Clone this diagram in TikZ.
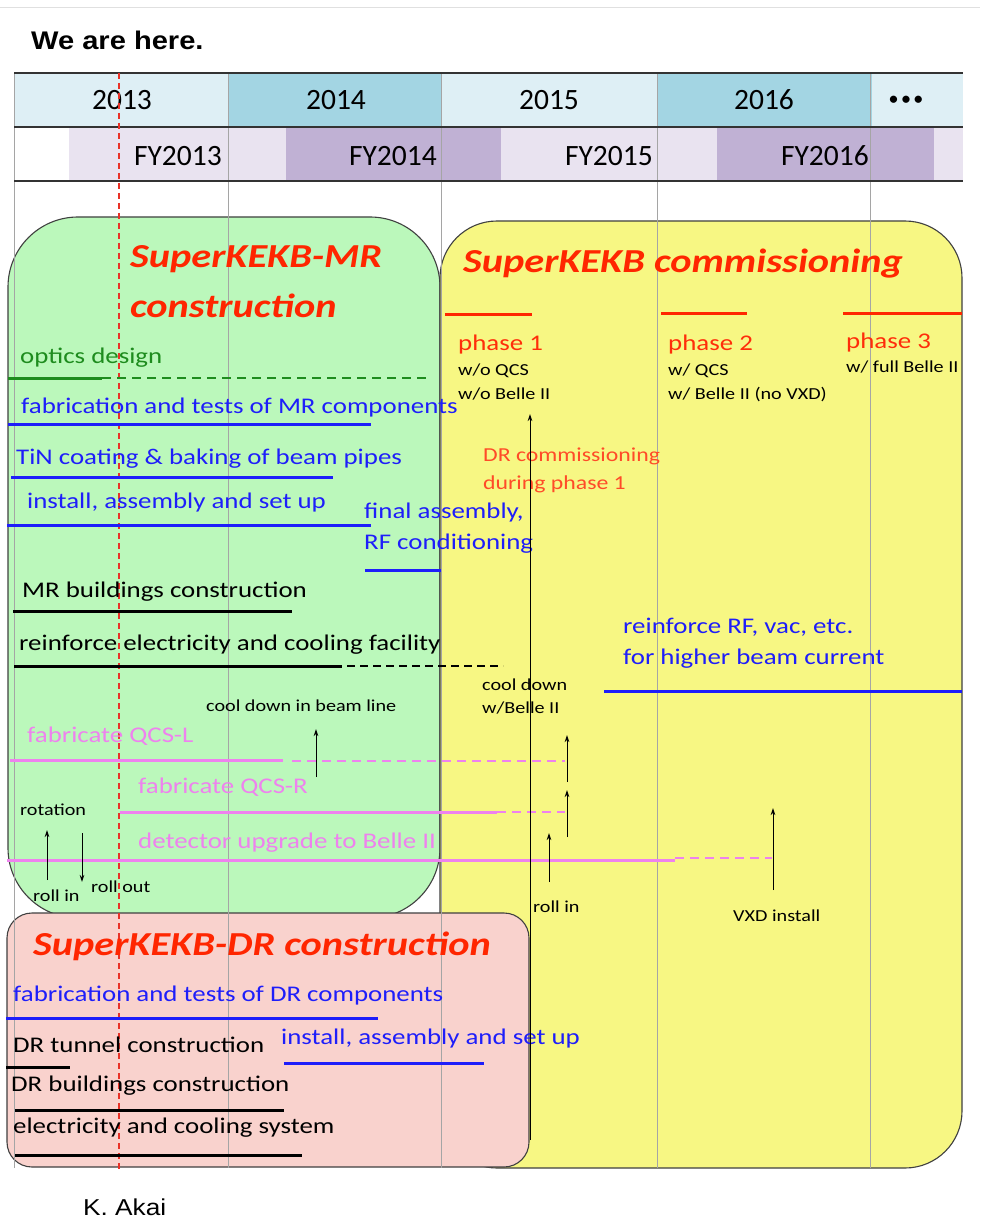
\documentclass[tikz,border=0pt]{standalone}
\usepackage{fontspec}
\setmainfont{Carlito}[FakeStretch=1.2]
\newfontfamily\hdrfont{Carlito}
\newfontfamily\arialfont{Liberation Sans}[FakeStretch=1.14]
\usetikzlibrary{arrows.meta}
\definecolor{kred}{RGB}{255,38,0}
\definecolor{phred}{RGB}{255,45,10}
\definecolor{drred}{RGB}{255,75,40}
\definecolor{kblue}{RGB}{30,30,250}
\definecolor{kgreen}{RGB}{30,140,30}
\definecolor{kviolet}{RGB}{238,130,238}
\definecolor{mrgreen}{RGB}{187,248,187}
\definecolor{cyellow}{RGB}{247,247,131}
\definecolor{drpink}{RGB}{249,210,205}
\definecolor{ylight}{RGB}{222,239,245}
\definecolor{ydark}{RGB}{163,213,227}
\definecolor{fylight}{RGB}{233,227,240}
\definecolor{fydark}{RGB}{192,177,212}
\definecolor{gridgray}{RGB}{165,165,165}
\definecolor{hereRed}{RGB}{232,50,40}
\tikzset{
  lbl/.style={anchor=base west, inner sep=0pt, font=\fontsize{22.4}{26}\selectfont},
  sml/.style={anchor=base west, inner sep=0pt, font=\fontsize{16.8}{19}\selectfont},
  ttl/.style={anchor=base west, inner sep=0pt, text=kred, font=\fontsize{33.6}{38}\selectfont\bfseries\itshape},
  hdr/.style={anchor=base, inner sep=0pt, font=\hdrfont\fontsize{29.5}{32}\selectfont},
  fyhdr/.style={anchor=base east, inner sep=0pt, font=\hdrfont\fontsize{29.5}{32}\selectfont},
  boxline/.style={draw=black!75, line width=1.1pt},
  gridline/.style={draw=gridgray, line width=0.9pt},
  bar/.style={line width=3pt},
  dbar/.style={line width=2.2pt, dash pattern=on 9pt off 6pt},
  arr/.style={-{Stealth[length=7pt,width=4.5pt]}, line width=1pt, black},
  thick rule/.style={draw=black!80, line width=2.6pt},
}
\begin{document}
\begin{tikzpicture}[x=1pt,y=-1pt]
\useasboundingbox (0,0) rectangle (980,1222);
\fill[white] (0,0) rectangle (980,1222);
\draw[black!12, line width=1pt] (0,8) -- (980,8);
\node[anchor=base west, inner sep=0pt, font=\arialfont\bfseries\fontsize{25.5}{30}\selectfont] (here) at (31,50) {We are here.};

% header cells
\fill[ylight] (14,73) rectangle (228,127);
\fill[ydark] (228,73) rectangle (441,127);
\fill[ylight] (441,73) rectangle (657,127);
\fill[ydark] (657,73) rectangle (872,127);
\fill[ylight] (872,73) rectangle (963,127);
\fill[fylight] (69,127) rectangle (286,181);
\fill[fydark] (286,127) rectangle (501,181);
\fill[fylight] (501,127) rectangle (717,181);
\fill[fydark] (717,127) rectangle (934,181);
\fill[fylight] (934,127) rectangle (963,181);
\node[hdr] (y13) at (122,110) {2013};
\node[hdr] (y14) at (336,110) {2014};
\node[hdr] (y15) at (549,110) {2015};
\node[hdr] (y16) at (764,110) {2016};
\node[inner sep=0pt, font=\hdrfont\bfseries\fontsize{17}{17}\selectfont] (dots) at (906,100) {\textbullet\hspace{4pt}\textbullet\hspace{4pt}\textbullet};
\node[fyhdr] (f13) at (222,166) {FY2013};
\node[fyhdr] (f14) at (437,166) {FY2014};
\node[fyhdr] (f15) at (653,166) {FY2015};
\node[fyhdr] (f16) at (869,166) {FY2016};

% boxes
\draw[boxline, fill=mrgreen, rounded corners=70pt] (8,217) rectangle (440,918);
\draw[boxline, fill=cyellow, rounded corners=57pt] (440,221) rectangle (962,1168);
\draw[boxline, fill=drpink, rounded corners=25pt] (7,913) rectangle (529,1167);

% grid lines
\foreach \gx in {14,228,441,657,870} {\draw[gridline] (\gx,73) -- (\gx,1168);}
\draw[thick rule] (14,73) -- (963,73);
\draw[thick rule] (14,127) -- (963,127);
\draw[thick rule] (14,181) -- (963,181);
\draw[hereRed, line width=1.3pt, dash pattern=on 6pt off 4pt] (119,73) -- (119,1170);

% MR box
\node[ttl] (mrt1) at (130,268) {SuperKEKB-MR};
\node[ttl] (mrt2) at (130,317) {construction};
\node[lbl, text=kgreen] (optics) at (20,363) {optics design};
\draw[bar, kgreen] (8,378) -- (102,378);
\draw[dbar, kgreen, line width=2pt] (102,378) -- (430,378);
\node[lbl, text=kblue] (fabmr) at (21,413) {fabrication and tests of MR components};
\draw[bar, kblue] (8,424) -- (371,424);
\node[lbl, text=kblue] (tin) at (16,464) {TiN coating \& baking of beam pipes};
\draw[bar, kblue] (11,477) -- (333,477);
\node[lbl, text=kblue] (inst) at (27,508) {install, assembly and set up};
\draw[bar, kblue] (7,525) -- (371,525);
\node[lbl, text=kblue] (fin1) at (364,518) {final assembly,};
\node[lbl, text=kblue] (fin2) at (364,549) {RF conditioning};
\draw[bar, kblue] (365,570) -- (441,570);
\node[lbl] (mrb) at (22,597) {MR buildings construction};
\draw[bar, black] (13,611) -- (292,611);
\node[lbl] (reinf) at (19,650) {reinforce electricity and cooling facility};
\draw[bar, black] (14,666) -- (342,666);
\draw[dbar, black, dash pattern=on 8pt off 5pt] (347,666) -- (503,666);
\node[sml] (cdbl) at (206,711) {cool down in beam line};
\node[lbl, text=kviolet] (qcsl) at (27,742) {fabricate QCS-L};
\draw[bar, kviolet] (10,760) -- (283,760);
\draw[dbar, kviolet] (292,761) -- (565,761);
\node[lbl, text=kviolet] (qcsr) at (138,793) {fabricate QCS-R};
\draw[bar, kviolet] (120,812) -- (497,812);
\draw[dbar, kviolet] (497,812) -- (565,812);
\node[sml] (rot) at (20,815) {rotation};
\node[lbl, text=kviolet] (det) at (138,848) {detector upgrade to Belle II};
\draw[bar, kviolet] (7,860) -- (675,860);
\draw[dbar, kviolet] (675,858) -- (772,858);
\node[sml] (rollin1) at (33,901) {roll in};
\node[sml] (rollout) at (91,892) {roll out};

% commissioning box
\node[ttl] (cmt) at (463,273) {SuperKEKB commissioning};
\draw[bar, kred] (445,314) -- (532,314);
\draw[bar, kred] (661,313) -- (747,313);
\draw[bar, kred] (843,313) -- (962,313);
\node[lbl, text=phred] (ph1) at (458,350) {phase 1};
\node[sml] (ph1a) at (458,375) {w/o QCS};
\node[sml] (ph1b) at (458,399) {w/o Belle II};
\node[lbl, text=phred] (ph2) at (668,350) {phase 2};
\node[sml] (ph2a) at (668,375) {w/ QCS};
\node[sml] (ph2b) at (668,399) {w/ Belle II (no VXD)};
\node[lbl, text=phred] (ph3) at (846,348) {phase 3};
\node[sml] (ph3a) at (846,372) {w/ full Belle II};
\node[anchor=base west, inner sep=0pt, text=drred, font=\fontsize{19.8}{22}\selectfont] (drc1) at (483,461) {DR commissioning};
\node[anchor=base west, inner sep=0pt, text=drred, font=\fontsize{19.8}{22}\selectfont] (drc2) at (483,489) {during phase 1};
\node[lbl, text=kblue] (rf1) at (623,633) {reinforce RF, vac, etc.};
\node[lbl, text=kblue] (rf2) at (623,664) {for higher beam current};
\draw[bar, kblue] (604,691) -- (962,691);
\node[sml] (cd1) at (482,690) {cool down};
\node[sml] (cd2) at (482,713) {w/Belle II};
\node[sml] (rollin2) at (533,912) {roll in};
\node[sml] (vxd) at (733,921) {VXD install};

% DR box
\node[ttl] (drt) at (33,955) {SuperKEKB-DR construction};
\node[lbl, text=kblue] (fabdr) at (13,1001) {fabrication and tests of DR components};
\draw[bar, kblue] (6,1018) -- (378,1018);
\node[lbl] (tunnel) at (13,1052) {DR tunnel construction};
\draw[bar, black] (6,1067) -- (70,1067);
\node[lbl, text=kblue] (drinst) at (281,1044) {install, assembly and set up};
\draw[bar, kblue] (284,1063) -- (484,1063);
\node[lbl] (drb) at (11,1091) {DR buildings construction};
\draw[bar, black] (15,1110) -- (284,1110);
\node[lbl] (elec) at (13,1133) {electricity and cooling system};
\draw[bar, black] (15,1155) -- (302,1155);

% arrows
\coordinate (a1s) at (316,777); \coordinate (a1e) at (316,729);
\coordinate (a2s) at (567,782); \coordinate (a2e) at (567,735);
\coordinate (a3s) at (567,837); \coordinate (a3e) at (567,790);
\coordinate (a4s) at (549,882); \coordinate (a4e) at (549,833);
\coordinate (a5s) at (773,890); \coordinate (a5e) at (773,808);
\coordinate (a6s) at (47,880);  \coordinate (a6e) at (47,830);
\coordinate (a7s) at (82,833);  \coordinate (a7e) at (82,882);
\coordinate (a8s) at (530,1140); \coordinate (a8e) at (530,414);
\draw[arr] (a1s) -- (a1e);
\draw[arr] (a2s) -- (a2e);
\draw[arr] (a3s) -- (a3e);
\draw[arr] (a4s) -- (a4e);
\draw[arr] (a5s) -- (a5e);
\draw[arr] (a6s) -- (a6e);
\draw[arr] (a7s) -- (a7e);
\draw[arr] (a8s) -- (a8e);

\node[anchor=base west, inner sep=0pt, font=\arialfont\fontsize{23}{27}\selectfont] (akai) at (83,1215) {K. Akai};
\end{tikzpicture}
\end{document}
